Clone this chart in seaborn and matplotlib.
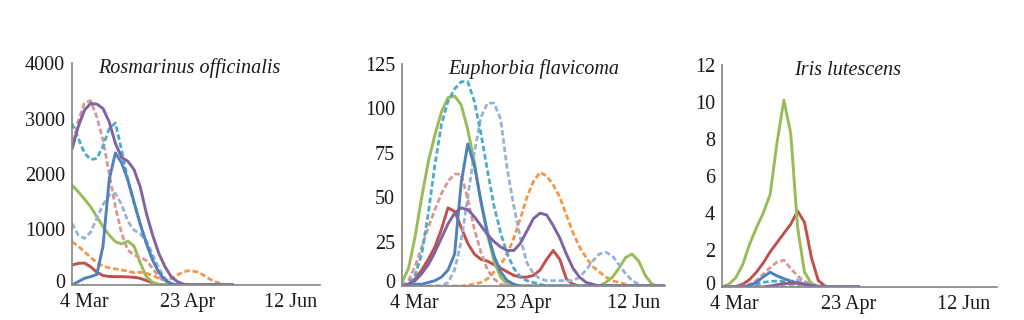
import numpy as np
import pandas as pd
import matplotlib
matplotlib.use("Agg")
import matplotlib.pyplot as plt
import matplotlib.transforms as mtransforms
import seaborn as sns

# ---------------- data ----------------
TITLES = ["Rosmarinus officinalis", "Euphorbia flavicoma", "Iris lutescens"]
X_TICKS = [0, 50, 100]
X_TICK_LABELS = ["4 Mar", "23 Apr", "12 Jun"]
Y_TICKS = [[0, 1000, 2000, 3000, 4000],
           [0, 25, 50, 75, 100, 125],
           [0, 2, 4, 6, 8, 10, 12]]

# Panel 1 (days after 4 Mar, step 3 up to 78)
P1_DAYS = list(range(0, 79, 3))
P1_ORANGE = [780, 700, 600, 500, 400, 340, 310, 290, 270, 250, 220, 230, 210, 170, 120, 95, 110,
             180, 240, 260, 240, 190, 120, 60, 25, 5, 0]
P1_RED = [360, 390, 395, 330, 230, 170, 155, 150, 150, 145, 140, 120, 80, 40, 10, 0,
          0, 0, 0, 0, 0, 0, 0, 0, 0, 0, 0]
P1_GREEN = [1800, 1680, 1550, 1410, 1230, 1050, 900, 780, 740, 790, 700, 400, 150, 50, 10, 0,
            0, 0, 0, 0, 0, 0, 0, 0, 0, 0, 0]
P1_LIGHTBLUE = [1110, 900, 840, 950, 1200, 1450, 1620, 1650, 1450, 1150, 990, 920, 800, 550, 300,
                120, 30, 0, 0, 0, 0, 0, 0, 0, 0, 0, 0]
P1_PINK = [2460, 2950, 3280, 3320, 3030, 2610, 2010, 1410, 930, 630, 540, 500, 440, 300, 150, 50,
           0, 0, 0, 0, 0, 0, 0, 0, 0, 0, 0]
P1_TEAL = [2910, 2650, 2380, 2260, 2280, 2500, 2820, 2920, 2430, 1890, 1470, 1110, 750, 450, 240,
           90, 20, 0, 0, 0, 0, 0, 0, 0, 0, 0, 0]
P1_BLUE = [0, 60, 120, 150, 190, 700, 1900, 2380, 2200, 1900, 1500, 1100, 750, 450, 230, 90, 20,
           0, 0, 0, 0, 0, 0, 0, 0, 0, 0]
P1_PURPLE = [2450, 2850, 3150, 3270, 3260, 3180, 2940, 2550, 2300, 2230, 2080, 1770, 1290, 900,
             570, 330, 150, 60, 15, 0, 0, 0, 0, 0, 0, 0, 0]

# Panel 2 (step 3 up to 120)
P2_DAYS = list(range(0, 121, 3))
P2_ORANGE = [0, 0, 0, 0, 0, 0, 0, 0, 0, 0, 0.5, 1, 2, 4, 8, 12, 18, 27, 38, 50, 59, 64, 62, 57,
             50, 40, 30, 22, 16, 11, 8, 5, 3, 2, 1, 0, 0, 0, 0, 0, 0]
P2_RED = [0, 1, 4, 9, 15, 22, 32, 44, 42, 33, 24, 18, 15, 14, 12, 10, 8, 6, 5, 5, 6, 9, 15, 20,
          15, 4, 1, 0, 0, 0, 0, 0, 0, 0, 0, 0, 0, 0, 0, 0, 0]
P2_GREEN = [2, 10, 28, 50, 70, 85, 98, 106, 107, 102, 88, 70, 47, 29, 14, 5, 1, 0, 0, 0, 0, 0,
            0, 0, 0, 0, 0, 0, 0, 0, 0, 2, 5, 10, 16, 18, 14, 6, 1, 0, 0]
P2_LIGHTBLUE = [0, 0, 0, 0, 0, 0, 0, 2, 9, 25, 50, 75, 95, 103, 103, 94, 66, 45, 27, 13, 7, 4, 3,
                3, 3, 3, 3, 5, 9, 14, 18, 19, 17, 12, 7, 3, 1, 0, 0, 0, 0]
P2_PINK = [0, 3, 11, 22, 33, 43, 52, 59, 63, 63, 49, 32, 19, 9, 4, 1, 0, 0, 0, 0, 0, 0, 0, 0, 0,
           0, 0, 0, 0, 0, 0, 0, 0, 0, 0, 0, 0, 0, 0, 0, 0]
P2_TEAL = [0, 1, 6, 18, 41, 68, 91, 104, 111, 115, 115, 104, 86, 65, 45, 30, 18, 10, 5, 3, 2, 1,
           0, 0, 0, 0, 0, 0, 0, 0, 0, 0, 0, 0, 0, 0, 0, 0, 0, 0, 0]
P2_BLUE = [0, 0, 1, 1, 2, 3, 5, 9, 18, 58, 80, 68, 48, 30, 17, 8, 3, 1, 0, 0, 0, 0, 0, 0, 0, 0,
           0, 0, 0, 0, 0, 0, 0, 0, 0, 0, 0, 0, 0, 0, 0]
P2_PURPLE = [0, 1, 3, 7, 12, 19, 27, 35, 41, 44, 43, 39, 34, 29, 25, 22, 20, 20, 24, 31, 38, 41,
             40, 34, 27, 18, 10, 5, 2, 1, 0, 0, 0, 0, 0, 0, 0, 0, 0, 0, 0]

# Panel 3 (step 3 up to 60)
P3_DAYS = list(range(0, 61, 3))
P3_ORANGE = [0, 0, 0, 0, 0.01, 0.02, 0.03, 0.04, 0.05, 0.05, 0.05, 0.05, 0.04, 0.04, 0.04, 0.03,
             0.03, 0.03, 0.02, 0.01, 0]
P3_RED = [0, 0, 0.02, 0.15, 0.4, 0.8, 1.3, 1.9, 2.4, 2.9, 3.4, 4.1, 3.5, 1.6, 0.35, 0.05, 0, 0,
          0, 0, 0]
P3_GREEN = [0, 0.15, 0.5, 1.2, 2.3, 3.2, 4.0, 5.0, 7.8, 10.1, 8.3, 3.2, 0.8, 0.2, 0.05, 0, 0, 0,
            0, 0, 0]
P3_LIGHTBLUE = [0, 0, 0, 0, 0, 0, 0, 0.05, 0.1, 0.2, 0.3, 0.38, 0.3, 0.15, 0.05, 0, 0, 0, 0, 0, 0]
P3_PINK = [0, 0, 0.02, 0.05, 0.15, 0.35, 0.7, 1.05, 1.35, 1.45, 1.0, 0.6, 0.3, 0.12, 0.04, 0, 0,
           0, 0, 0, 0]
P3_TEAL = [0, 0, 0, 0.02, 0.06, 0.15, 0.25, 0.3, 0.32, 0.3, 0.28, 0.25, 0.18, 0.08, 0.02, 0, 0,
           0, 0, 0, 0]
P3_BLUE = [0, 0, 0, 0.02, 0.08, 0.25, 0.55, 0.8, 0.6, 0.45, 0.32, 0.22, 0.15, 0.08, 0.02, 0, 0,
           0, 0, 0, 0]
P3_PURPLE = [0, 0, 0, 0, 0, 0, 0, 0.05, 0.12, 0.18, 0.2, 0.2, 0.15, 0.06, 0.01, 0, 0, 0, 0, 0, 0]

# ---------------- style ----------------
SERIES_STYLE = {
    "orange": ("#F79646", True),
    "red": ("#C0504D", False),
    "green": ("#9BBB59", False),
    "lightblue": ("#95B3D7", True),
    "pink": ("#D99694", True),
    "teal": ("#4BACC6", True),
    "blue": ("#4F81BD", False),
    "purple": ("#8064A2", False),
}

PANELS = [
    (P1_DAYS, {"orange": P1_ORANGE, "red": P1_RED, "green": P1_GREEN, "lightblue": P1_LIGHTBLUE,
               "pink": P1_PINK, "teal": P1_TEAL, "blue": P1_BLUE, "purple": P1_PURPLE}),
    (P2_DAYS, {"orange": P2_ORANGE, "red": P2_RED, "green": P2_GREEN, "lightblue": P2_LIGHTBLUE,
               "pink": P2_PINK, "teal": P2_TEAL, "blue": P2_BLUE, "purple": P2_PURPLE}),
    (P3_DAYS, {"orange": P3_ORANGE, "red": P3_RED, "green": P3_GREEN, "lightblue": P3_LIGHTBLUE,
               "pink": P3_PINK, "teal": P3_TEAL, "blue": P3_BLUE, "purple": P3_PURPLE}),
]

sns.set_style("white")
plt.rcParams["font.family"] = ["Liberation Serif", "DejaVu Serif"]

W, H = 1024, 320
fig = plt.figure(figsize=(W / 100, H / 100), dpi=100)

# axes boxes in pixels: (left, top, right, bottom)
BOXES = [(72, 63, 320, 285), (402, 64, 665, 286), (722, 65, 997, 287)]
TITLE_X = [0.472, 0.502, 0.458]
AXIS_GREY = "#8c8c8c"

for i, ((days, series), box) in enumerate(zip(PANELS, BOXES)):
    l, t, r, b = box
    ax = fig.add_axes([l / W, 1 - b / H, (r - l) / W, (b - t) / H])
    for name, vals in series.items():
        color, dashed = SERIES_STYLE[name]
        df = pd.DataFrame({"day": days, "value": vals})
        sns.lineplot(data=df, x="day", y="value", ax=ax, color=color,
                     linewidth=2.0 if dashed else 2.1,
                     linestyle=(0, (2.0, 1.0)) if dashed else "-",
                     legend=False)
    ax.set_xlim(0, 120)
    ax.set_ylim(0, Y_TICKS[i][-1])
    ax.set_xticks(X_TICKS)
    ax.set_xticklabels(X_TICK_LABELS)
    ax.set_yticks(Y_TICKS[i])
    ax.set_xlabel("")
    ax.set_ylabel("")
    for side in ["top", "right"]:
        ax.spines[side].set_visible(False)
    for side in ["left", "bottom"]:
        ax.spines[side].set_color(AXIS_GREY)
        ax.spines[side].set_linewidth(1.3)
        ax.spines[side].set_zorder(5)
    ax.tick_params(axis="both", direction="in", length=4, width=1, color=AXIS_GREY,
                   labelsize=14.5, labelcolor="#1a1a1a")
    ax.tick_params(axis="y", pad=5)
    ax.tick_params(axis="x", pad=5.5)
    x_shift = mtransforms.ScaledTranslation(0.12, 0, fig.dpi_scale_trans)
    for lab in ax.get_xticklabels():
        lab.set_transform(lab.get_transform() + x_shift)
    # the zero label sits slightly above the axis line, as in the original
    y_shift = mtransforms.ScaledTranslation(0, 0.045, fig.dpi_scale_trans)
    zero_lab = ax.get_yticklabels()[0]
    zero_lab.set_transform(zero_lab.get_transform() + y_shift)
    ax.text(TITLE_X[i], 0.953, TITLES[i], transform=ax.transAxes, ha="center",
            va="baseline", fontsize=14.5, style="italic", color="#1a1a1a")
    ax.patch.set_alpha(0)

fig.savefig("out.png", dpi=100, facecolor="white")
